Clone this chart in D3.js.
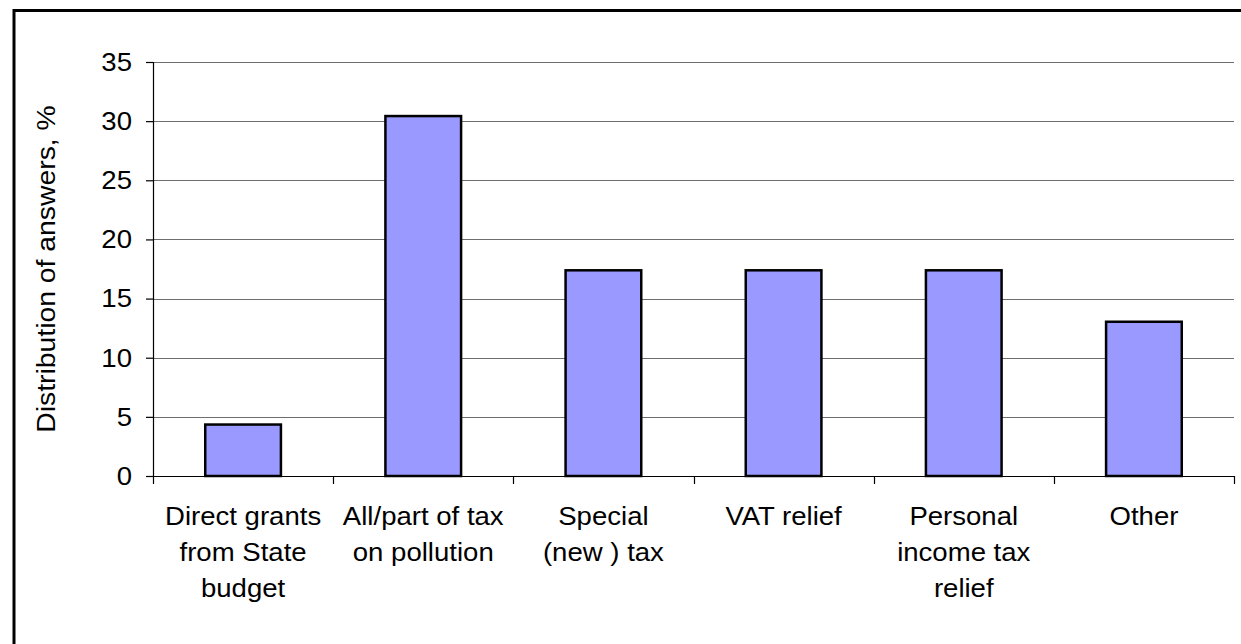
<!DOCTYPE html>
<html>
<head>
<meta charset="utf-8">
<script src="https://cdn.jsdelivr.net/npm/d3@7"></script>
<style>
  html, body { margin: 0; padding: 0; background: #fff; overflow: hidden; }
  svg { display: block; }
  text { font-family: Arial, "Liberation Sans", sans-serif; fill: #000; }
</style>
</head>
<body>
<svg id="chart" width="1241" height="644"></svg>
<script>
// Survey results: preferred funding source, share of answers in %
const categories = [
  ["Direct grants", "from State", "budget"],
  ["All/part of tax", "on pollution"],
  ["Special", "(new ) tax"],
  ["VAT relief"],
  ["Personal", "income tax", "relief"],
  ["Other"]
];
const values = [4.35, 30.43, 17.39, 17.39, 17.39, 13.04];
const yTicks = [0, 5, 10, 15, 20, 25, 30, 35];
const yTitle = "Distribution of answers, %";

const svg = d3.select("#chart");
const W = 1241, H = 644;
const plot = { left: 153, right: 1234, top: 62, bottom: 476 };
const fontSize = 26;
const stretch = 1.06;      // horizontal widening of the label glyphs
const titleStretch = 1.09;

// Outer frame (runs off the right and bottom edges)
svg.append("rect")
  .attr("x", 14).attr("y", 10.5)
  .attr("width", W + 40).attr("height", H + 40)
  .attr("fill", "none").attr("stroke", "#000").attr("stroke-width", 3);

const x = d3.scaleBand()
  .domain(d3.range(categories.length))
  .range([plot.left, plot.right])
  .padding(0);

const y = d3.scaleLinear()
  .domain([0, 35])
  .range([plot.bottom, plot.top]);

// Horizontal gridlines
svg.append("g")
  .selectAll("line")
  .data(yTicks.filter(d => d > 0))
  .join("line")
  .attr("x1", plot.left).attr("x2", plot.right)
  .attr("y1", d => Math.round(y(d)) + 0.5).attr("y2", d => Math.round(y(d)) + 0.5)
  .attr("stroke", "#6e6e6e").attr("stroke-width", 1.2);

// Bars
const barW = x.bandwidth() * 0.42;
svg.append("g")
  .selectAll("rect")
  .data(values)
  .join("rect")
  .attr("x", (d, i) => x(i) + (x.bandwidth() - barW) / 2)
  .attr("y", d => y(d))
  .attr("width", barW)
  .attr("height", d => y(0) - y(d))
  .attr("fill", "#9999ff")
  .attr("stroke", "#000")
  .attr("stroke-width", 2.5);

// Y axis
const yAxis = svg.append("g")
  .attr("transform", `translate(${plot.left},0)`)
  .call(d3.axisLeft(y).tickValues(yTicks).tickSize(7).tickPadding(14).tickFormat(d3.format("d")));
yAxis.select(".domain").attr("stroke", "#000").attr("stroke-width", 1.2).attr("d", `M0.5,${plot.top}V${plot.bottom}`);
yAxis.selectAll(".tick line").attr("stroke", "#000").attr("stroke-width", 1.2);
yAxis.selectAll(".tick text")
  .attr("font-size", fontSize)
  .attr("font-family", "Arial, 'Liberation Sans', sans-serif")
  .attr("fill", "#000")
  .each(function () {
    const t = d3.select(this);
    const xx = +t.attr("x");
    t.attr("x", xx / stretch).attr("transform", `scale(${stretch},1)`);
  });

// X axis: baseline plus ticks at category boundaries
const xg = svg.append("g");
xg.append("line")
  .attr("x1", plot.left).attr("x2", plot.right)
  .attr("y1", y(0) + 0.5).attr("y2", y(0) + 0.5)
  .attr("stroke", "#000").attr("stroke-width", 1.2);
const bounds = d3.range(categories.length + 1).map(i => i < categories.length ? x(i) : plot.right);
xg.selectAll("line.tk")
  .data(bounds)
  .join("line")
  .attr("class", "tk")
  .attr("x1", d => Math.round(d) + 0.5).attr("x2", d => Math.round(d) + 0.5)
  .attr("y1", y(0)).attr("y2", y(0) + 8)
  .attr("stroke", "#000").attr("stroke-width", 1.2);

// Category labels
const lab = svg.append("g");
categories.forEach((lines, i) => {
  const cx = x(i) + x.bandwidth() / 2;
  const t = lab.append("text")
    .attr("text-anchor", "middle")
    .attr("font-size", fontSize)
    .attr("transform", `translate(${cx},525) scale(${stretch},1)`);
  lines.forEach((ln, j) => {
    t.append("tspan").attr("x", 0).attr("y", j * 36).text(ln);
  });
});

// Y axis title
svg.append("text")
  .attr("text-anchor", "middle")
  .attr("font-size", fontSize)
  .attr("transform", `translate(55,${(plot.top + plot.bottom) / 2}) rotate(-90) scale(${titleStretch},1)`)
  .text(yTitle);
</script>
</body>
</html>
